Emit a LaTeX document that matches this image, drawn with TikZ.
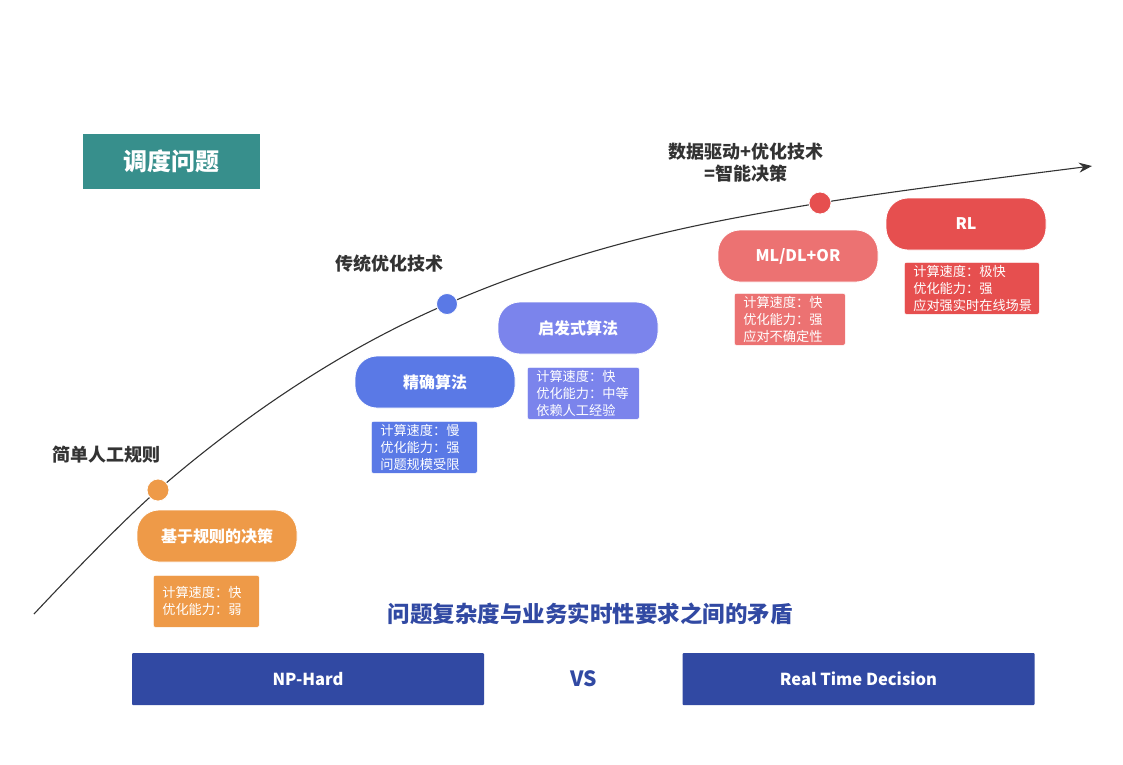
\documentclass[tikz,border=0pt]{standalone}
\usepackage{fontspec}
\setmainfont{Noto Sans CJK SC}
\usetikzlibrary{arrows.meta}
\definecolor{teal1}{HTML}{378F8C}
\definecolor{orng}{HTML}{EE9A48}
\definecolor{blu}{HTML}{5A79E6}
\definecolor{purp}{HTML}{7B84EC}
\definecolor{pink}{HTML}{EC7272}
\definecolor{redd}{HTML}{E64F4F}
\definecolor{navy}{HTML}{3149A3}
\definecolor{dgray}{HTML}{333333}
\tikzset{
  pill/.style={fill=#1, draw=white, line width=0.8pt, rounded corners=22pt, minimum width=160pt, minimum height=52pt, text=white, font=\fontsize{16}{19}\selectfont\bfseries, inner sep=0pt},
  info/.style={fill=#1, draw=white, line width=0.6pt, rounded corners=2pt, text=white, font=\fontsize{13.2}{17}\selectfont, align=left, inner xsep=9pt, inner ysep=0pt, anchor=north west},
  dot/.style={circle, fill=#1, draw=white, line width=0.8pt, minimum size=22pt, inner sep=0pt},
  stage/.style={text=dgray, font=\fontsize{18}{22}\selectfont\bfseries, align=center},
  bar/.style={fill=navy, minimum width=352pt, minimum height=52pt, text=white, font=\fontsize{16.5}{19}\selectfont\bfseries, inner sep=0pt, rounded corners=1pt}
}
\begin{document}
\begin{tikzpicture}[x=1pt,y=-1pt]
\useasboundingbox (0,0) rectangle (1123,764);
% title box
\node[fill=teal1, minimum width=177pt, minimum height=55pt, text=white, font=\fontsize{24}{26}\selectfont\bfseries, inner sep=0pt] (title) at (171.5,161.5) {调度问题};
% curve
\draw[line width=1.1pt, dgray, -{Stealth[length=13pt,width=10pt]}] plot[smooth, tension=0.6] coordinates {(34,614) (158,490) (300,383) (447,304) (620,244) (820,203) (1092,166)};
% dots
\node[dot=orng] (d1) at (158,490) {};
\node[dot=blu, minimum size=21pt] (d2) at (447,304) {};
\node[dot=redd] (d3) at (820,203) {};
% stage labels
\node[stage] (s1) at (106,455) {简单人工规则};
\node[stage] (s2) at (389,264) {传统优化技术};
\node[stage] (s3) at (746,163) {数据驱动+优化技术\\=智能决策};
% pills
\node[pill=orng] (p1) at (217,536) {基于规则的决策};
\node[pill=blu] (p2) at (435,382) {精确算法};
\node[pill=purp] (p3) at (578,328) {启发式算法};
\node[pill=pink] (p4) at (798,256) {ML/DL+OR};
\node[pill=redd] (p5) at (966,224) {RL};
% info boxes
\node[info=orng, minimum width=106pt, minimum height=52pt, text width=88pt] (i1) at (153,575) {计算速度：快\\优化能力：弱};
\node[info=blu, minimum width=106pt, minimum height=52pt, text width=88pt] (i2) at (371,421) {计算速度：慢\\优化能力：强\\问题规模受限};
\node[info=purp, minimum width=112pt, minimum height=52pt, text width=94pt] (i3) at (527,367) {计算速度：快\\优化能力：中等\\依赖人工经验};
\node[info=pink, minimum width=111pt, minimum height=52pt, text width=93pt] (i4) at (734,293) {计算速度：快\\优化能力：强\\应对不确定性};
\node[info=redd, minimum width=135pt, minimum height=52pt, text width=117pt] (i5) at (904,262) {计算速度：极快\\优化能力：强\\应对强实时在线场景};
% bottom
\node[text=navy, font=\fontsize{22.5}{26}\selectfont\bfseries] (conflict) at (590,614) {问题复杂度与业务实时性要求之间的矛盾};
\node[bar] (np) at (308,679) {NP-Hard};
\node[text=navy, font=\fontsize{21}{24}\selectfont\bfseries] (vs) at (584,679) {VS};
\node[bar] (rt) at (858.5,679) {Real Time Decision};
\end{tikzpicture}
\end{document}
